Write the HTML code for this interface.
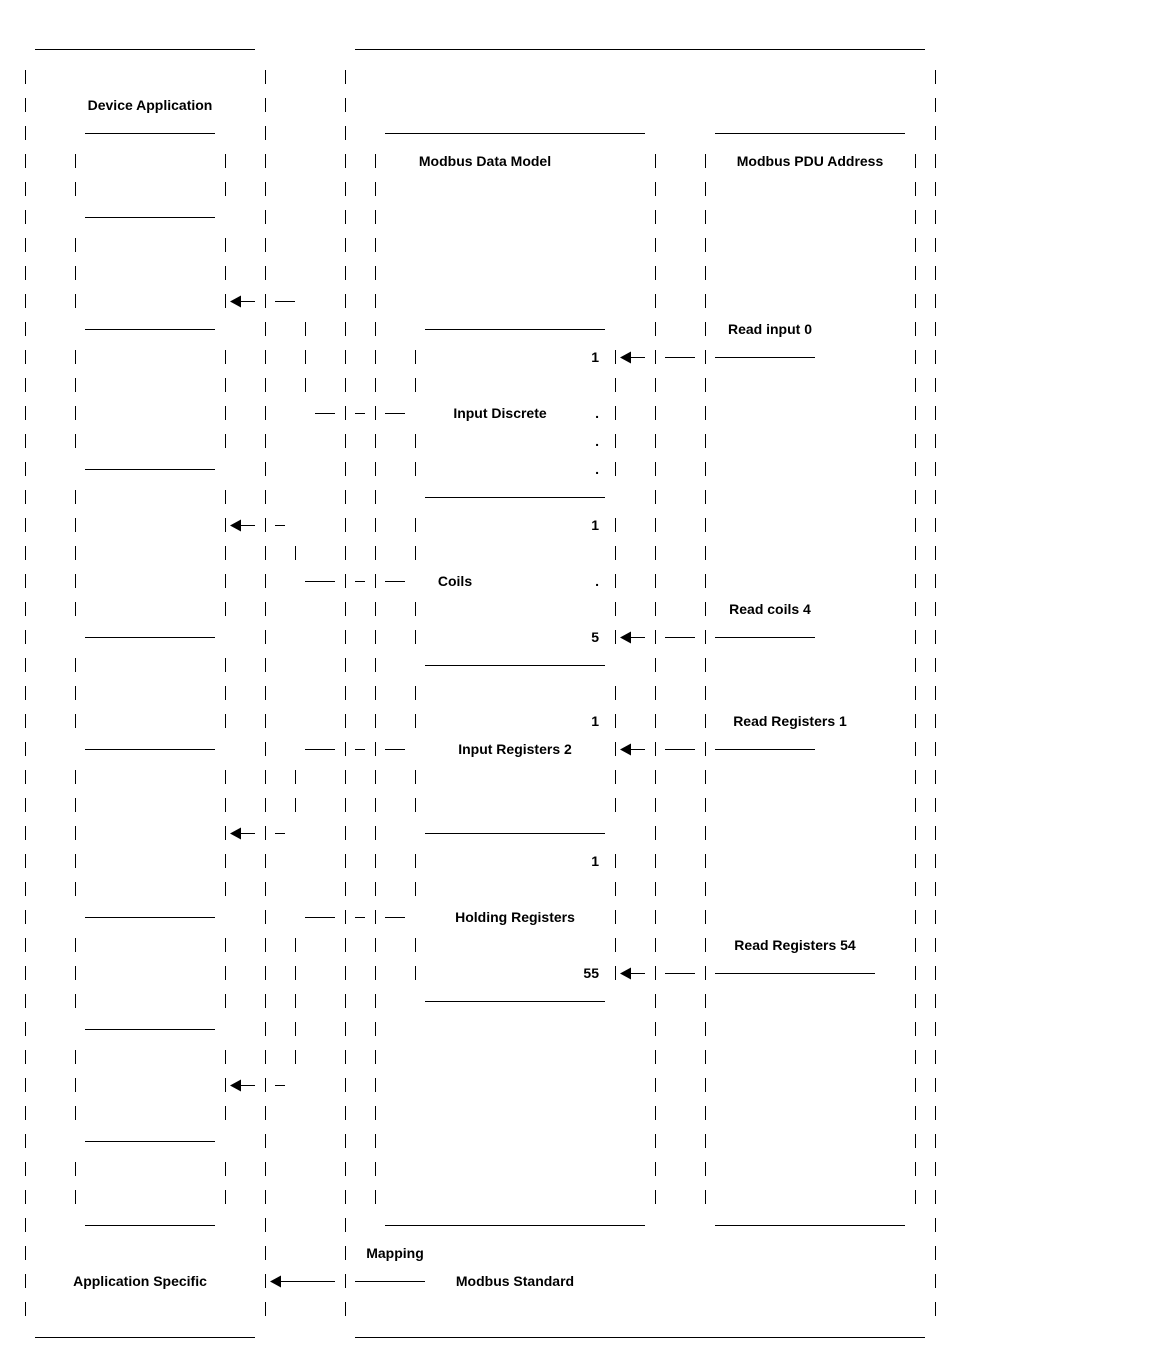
<!DOCTYPE html>
<html><head><meta charset="utf-8"><style>
html,body{margin:0;padding:0;background:#fff;width:1150px;height:1372px;overflow:hidden}
svg text{font-family:"Liberation Sans",sans-serif;font-weight:bold;font-size:14px;fill:#000}
</style></head><body>
<svg id="s" width="1150" height="1372" xmlns="http://www.w3.org/2000/svg"></svg>
<script>
var s=document.getElementById('s'),h='';
function Y(n){return 49+28*n;}
function L(n,x1,x2){var y=Y(n)+0.5;h+='<line x1="'+x1+'" y1="'+y+'" x2="'+x2+'" y2="'+y+'" stroke="#000" stroke-width="1"/>';}
function B(n,x){var y=Y(n);h+='<line x1="'+(x+0.5)+'" y1="'+(y-7)+'" x2="'+(x+0.5)+'" y2="'+(y+7)+'" stroke="#000" stroke-width="1"/>';}
function A(n,x,len){var y=Y(n)+0.5;B(n,x);h+='<polygon points="'+(x+5)+','+y+' '+(x+16)+','+(y-6)+' '+(x+16)+','+(y+6)+'" fill="#000"/>';L(n,x+14,x+len);}
function T(n,x,t,anc){h+='<text x="'+x+'" y="'+(Y(n)+5)+'" text-anchor="'+(anc||'middle')+'">'+t+'</text>';}
var i;
L(0,35,255);L(0,355,925);L(46,35,255);L(46,355,925);
for(i=1;i<=45;i++){B(i,25);B(i,265);B(i,345);B(i,935);}
var leftLines=[3,6,10,15,21,25,31,35,39,42];
for(i=0;i<leftLines.length;i++)L(leftLines[i],85,215);
for(i=4;i<=41;i++){if(leftLines.indexOf(i)<0){B(i,75);B(i,225);}B(i,375);B(i,655);B(i,705);B(i,915);}
L(3,385,645);L(3,715,905);L(42,385,645);L(42,715,905);
var innerLines=[10,16,22,28,34];
for(i=0;i<innerLines.length;i++)L(innerLines[i],425,605);
var conn=[13,19,25,31];
for(i=11;i<=33;i++){if(innerLines.indexOf(i)<0&&conn.indexOf(i)<0)B(i,415);if(innerLines.indexOf(i)<0)B(i,615);}
A(9,225,30);L(9,275,295);
A(17,225,30);L(17,275,285);
A(28,225,30);L(28,275,285);
A(37,225,30);L(37,275,285);
[10,11,12].forEach(function(n){B(n,305);});
[18,26,27,32,33,34,35,36].forEach(function(n){B(n,295);});
L(13,315,335);L(19,305,335);L(25,305,335);L(31,305,335);
conn.forEach(function(n){L(n,355,365);L(n,385,405);});
[11,21,25,33].forEach(function(n){A(n,615,30);L(n,665,695);});
L(11,715,815);L(21,715,815);L(25,715,815);L(33,715,875);
A(44,265,70);L(44,355,425);
T(2,150,'Device Application');
T(4,485,'Modbus Data Model');T(4,810,'Modbus PDU Address');
T(10,770,'Read input 0');T(20,770,'Read coils 4');T(24,790,'Read Registers 1');T(32,795,'Read Registers 54');
T(13,500,'Input Discrete');T(19,455,'Coils');T(25,515,'Input Registers 2');T(31,515,'Holding Registers');
[[11,'1'],[13,'.'],[14,'.'],[15,'.'],[17,'1'],[19,'.'],[21,'5'],[24,'1'],[29,'1'],[33,'55']].forEach(function(a){T(a[0],599,a[1],'end');});
T(43,395,'Mapping');T(44,140,'Application Specific');T(44,515,'Modbus Standard');
s.innerHTML=h;
</script>
</body></html>
